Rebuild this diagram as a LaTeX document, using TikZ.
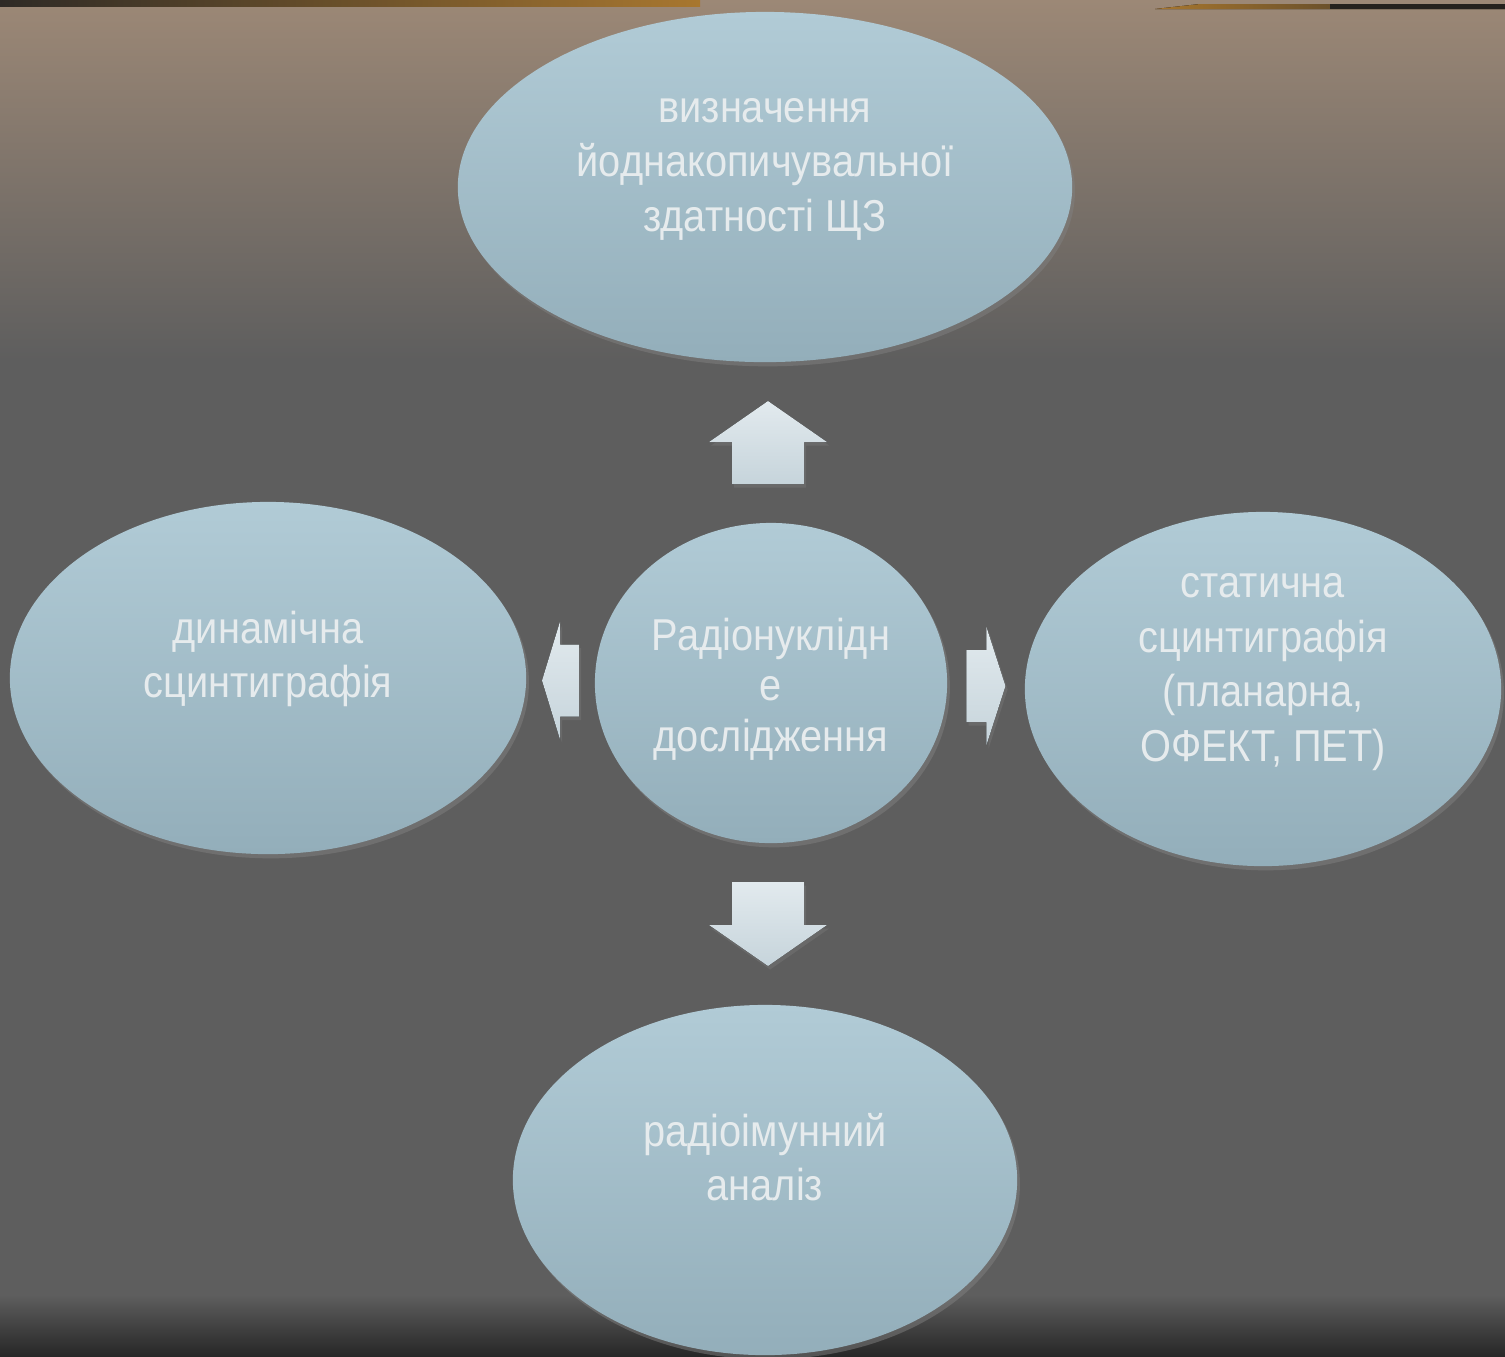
\documentclass[tikz,border=0pt]{standalone}
\usepackage{fontspec}
\setmainfont{Liberation Sans}[FakeStretch=0.89]
\usetikzlibrary{shapes.geometric,shadows,calc}

\definecolor{fonverkh}{HTML}{9C8876}
\definecolor{fonsiryi}{HTML}{5E5E5E}
\definecolor{fonnyz}{HTML}{272727}
\definecolor{smuha1}{HTML}{2E2A26}
\definecolor{smuha2}{HTML}{A8772F}
\definecolor{kolo1}{HTML}{B1CBD6}
\definecolor{kolo2}{HTML}{93AEBA}
\definecolor{strilka1}{HTML}{E2EAEE}
\definecolor{strilka2}{HTML}{C6D4DB}
\definecolor{tekst}{HTML}{E6EBED}

\begin{document}
\begin{tikzpicture}[
        x=0.01cm, y=-0.01cm, % координаты в пикселях, ось y вниз
        kolo/.style={ellipse, inner sep=0pt, top color=kolo1, bottom color=kolo2,
            drop shadow={shadow xshift=0.8pt, shadow yshift=-1.2pt, opacity=0.5}}, % Стиль эллипсов
        napys/.style={align=center, text=tekst, font=\fontsize{12.7}{15.5}\selectfont},
        pics/strilka/.style 2 args={code={ % блочная стрелка вверх: длина, длина головки
            \fill[top color=strilka1, bottom color=strilka2,
                drop shadow={shadow xshift=0.6pt, shadow yshift=-1pt, opacity=0.35}]
                (0,-#1/2) -- (59,-#1/2+#2) -- (36,-#1/2+#2) -- (36,#1/2)
                -- (-36,#1/2) -- (-36,-#1/2+#2) -- (-59,-#1/2+#2) -- cycle;
        }},
    ]

    % фон
    \clip (0,0) rectangle (1505,1356);
    \fill[top color=fonverkh, bottom color=fonsiryi] (0,0) rectangle (1505,360);
    \fill[fonsiryi] (0,359) rectangle (1505,1296);
    \fill[top color=fonsiryi, bottom color=fonnyz] (0,1295) rectangle (1505,1356);
    \fill[left color=smuha1, right color=smuha2] (0,0) rectangle (700,6);
    \fill[left color=smuha2, right color=smuha1] (1155,9) -- (1200,4) -- (1505,4) -- (1505,9) -- cycle;
    \fill[smuha1!80!black] (1330,4) rectangle (1505,9);

    % эллипсы
    \node[kolo, minimum width=3.52cm, minimum height=3.2cm] (centr) at (771,683) {};
    \node[kolo, minimum width=6.14cm, minimum height=3.5cm] (verkh) at (765,187) {};
    \node[kolo, minimum width=5.16cm, minimum height=3.52cm] (liva) at (268,678) {};
    \node[kolo, minimum width=4.76cm, minimum height=3.54cm] (prava) at (1263,689) {};
    \node[kolo, minimum width=5.04cm, minimum height=3.5cm] (nyz) at (765,1180) {};

    % надписи
    \node[napys, font=\fontsize{12.7}{14.4}\selectfont] (centrtekst) at ([yshift=-0.06cm]centr.center) {Радіонуклідн\\е\\дослідження};
    \node[napys] (verkhtekst) at ([yshift=0.18cm]verkh.center) {визначення\\йоднакопичувальної\\здатності ЩЗ};
    \node[napys] (livatekst) at ([yshift=0.19cm]liva.center) {динамічна\\сцинтиграфія};
    \node[napys] (pravatekst) at ([yshift=0.17cm]prava.center) {статична\\сцинтиграфія\\(планарна,\\ОФЕКТ, ПЕТ)};
    \node[napys] (nyztekst) at ([yshift=0.23cm]nyz.center) {радіоімунний\\аналіз};

    % стрелки между центром и эллипсами
    \pic at ($(centr.north)!0.5!(verkh.south)$) {strilka={83}{41}};
    \pic[rotate=180] at ($(centr.south)!0.5!(nyz.north)$) {strilka={84}{41}};
    \pic[rotate=90] at ($(centr.west)!0.5!(liva.east)$) {strilka={37}{18}};
    \pic[rotate=-90] at ($(centr.east)!0.5!(prava.west)$) {strilka={39}{19}};
\end{tikzpicture}
\end{document}
